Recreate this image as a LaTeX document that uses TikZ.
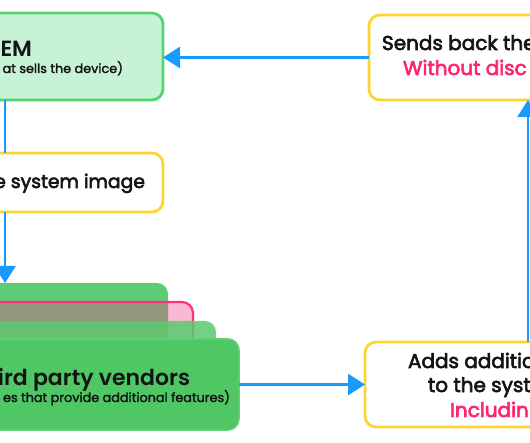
\documentclass[tikz,border=0pt]{standalone}
\usepackage{fontspec}
\setmainfont{Poppins}
\newfontfamily\medfont{Poppins}[FakeBold=3]
\newfontfamily\subfont{Poppins}[FakeBold=2]
\IfFontExistsTF{Poppins SemiBold}{\newfontfamily\semifont{Poppins SemiBold}}{\newfontfamily\semifont{Poppins}[UprightFont={* Bold}]}
\usetikzlibrary{arrows.meta}
\definecolor{flow}{HTML}{1A9BFC}
\definecolor{oemfill}{HTML}{C8F2D6}
\definecolor{oemline}{HTML}{52D46F}
\definecolor{ylw}{HTML}{FDD431}
\definecolor{gback}{HTML}{5CCB76}
\definecolor{pinkfill}{HTML}{EE3E8A}
\definecolor{pinkline}{HTML}{FF2E7E}
\definecolor{gmid}{HTML}{5BC96E}
\definecolor{gfront}{HTML}{4EC764}
\definecolor{gfrontline}{HTML}{66CF78}
\definecolor{ink}{HTML}{141414}
\definecolor{accent}{HTML}{FF2372}
\tikzset{
  box/.style={rectangle, rounded corners=11pt, inner sep=0pt, outer sep=0pt, line width=2.8pt},
  txt/.style={inner sep=0pt, outer sep=0pt, text=ink},
  bigt/.style={txt, font=\semifont\fontsize{22}{26}\selectfont},
  midt/.style={txt, font=\medfont\fontsize{20}{24}\selectfont},
  syst/.style={txt, font=\medfont\fontsize{18.8}{23}\selectfont},
  subt/.style={txt, font=\subfont\fontsize{12.8}{15}\selectfont},
  conn/.style={draw=flow, line width=2.8pt},
  arr/.style={conn, -{Triangle[length=17pt,width=21pt]}}
}
\begin{document}
\begin{tikzpicture}[x=1pt,y=-1pt]
\useasboundingbox (0,0) rectangle (530,443);
\clip (0,0) rectangle (530,443);
% boxes
\node[box, draw=oemline, fill=oemfill, minimum width=223pt, minimum height=87pt] (oem) at (51.5,56.5) {};
\node[box, draw=ylw, fill=white, minimum width=223pt, minimum height=59pt] (sys) at (51.5,182.5) {};
\node[box, draw=ylw, fill=white, minimum width=331pt, minimum height=85pt] (sends) at (534.5,57.5) {};
\node[box, draw=ylw, fill=white, minimum width=335pt, minimum height=85pt] (adds) at (532.5,384.5) {};
% stacked vendor boxes
\node[box, draw=none, fill=gback, minimum width=228pt, minimum height=137pt] (back) at (54,351.5) {};
\node[box, draw=pinkline, fill=pinkfill, fill opacity=0.37, line width=2.2pt, minimum width=253pt, minimum height=118pt] (pinkb) at (66.5,361) {};
\node[box, draw=none, fill=gmid, fill opacity=0.85, minimum width=276pt, minimum height=104pt] (third) at (78,373) {};
\node[box, draw=gfrontline, fill=gfront, line width=1.5pt, minimum width=299pt, minimum height=91pt] (front) at (89.5,384.5) {};
% texts
\node[bigt, anchor=base east] (oemT) at (32,57) {EM};
\node[subt, anchor=base east] (oemS) at (123,73) {at sells the device)};
\node[syst, anchor=base east] (sysT) at (145,188) {e system image};
\node[bigt, anchor=base east] (venT) at (190,385) {ird party vendors};
\node[subt, anchor=base east] (venS) at (230,402) {es that provide additional features)};
\node[midt, anchor=base west] (sendT) at (382,50) {Sends back the};
\node[midt, anchor=base west, text=accent] (sendP) at (403,75) {Without disc};
\node[midt, anchor=base west] (addT1) at (408,368) {Adds additio};
\node[midt, anchor=base west] (addT2) at (428,392) {to the syst};
\node[midt, anchor=base west, text=accent] (addP) at (450,417) {Includin};
% connectors
\coordinate (lx) at (5,0);
\coordinate (rx) at (528,0);
\draw[conn] (oem.south -| lx) -- (sys.north -| lx);
\draw[arr] (sys.south -| lx) -- (back.north -| lx);
\draw[arr] (sends.west) -- (sends.west -| oem.east);
\draw[arr] (adds.north -| rx) -- (sends.south -| rx);
\draw[arr] (front.east) -- (adds.west);
\end{tikzpicture}
\end{document}
